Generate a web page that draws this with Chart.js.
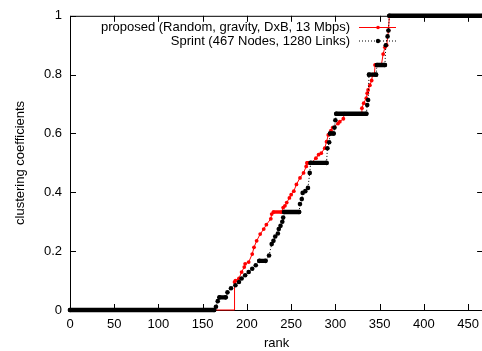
<!DOCTYPE html>
<html><head><meta charset="utf-8">
<script src="https://cdn.jsdelivr.net/npm/chart.js@4.4.1/dist/chart.umd.min.js"></script>
<style>
html,body{margin:0;padding:0;overflow:hidden;background:#fff;width:482px;height:351px}
#wrap{width:486px;height:351px}
</style></head>
<body><div id="wrap"><canvas id="c" width="486" height="351"></canvas></div>
<script>
// ---- data ----
const seriesNames = ['proposed (Random, gravity, DxB, 13 Mbps)', 'Sprint (467 Nodes, 1280 Links)'];
const xTicks = [0, 50, 100, 150, 200, 250, 300, 350, 400, 450];
const yTicks = [0, 0.2, 0.4, 0.6, 0.8, 1];
const xTickLabels = ['0', '50', '100', '150', '200', '250', '300', '350', '400', '450'];
const yTickLabels = ['0', '0.2', '0.4', '0.6', '0.8', '1'];
const xTitle = 'rank';
const yTitle = 'clustering coefficients';

const proposedRank = [0,186,186,187,191,194,197,198,202,206,208,211,215,219,222,227,228,230,239,241,243,245,248,250,253,256,260,264,267,268,273,278,281,284,288,290,292,295,297,303,305,309,310,329,330,332,335,336,337,339,341,342,344,345,352,354,356,358,360,361,467];
const proposedValue = [0,0,0.095,0.1,0.107,0.129,0.146,0.157,0.163,0.19,0.213,0.235,0.258,0.275,0.29,0.31,0.326,0.333,0.333,0.348,0.354,0.365,0.381,0.392,0.404,0.427,0.449,0.466,0.488,0.5,0.5,0.516,0.528,0.533,0.55,0.572,0.595,0.61,0.62,0.634,0.64,0.65,0.667,0.667,0.686,0.703,0.72,0.737,0.748,0.764,0.78,0.8,0.8,0.833,0.833,0.87,0.893,0.9,0.95,1,1];

const sprintRank = [0,163,165,167,169,176,178,182,187,191,194,198,202,206,210,214,221,225,228,230,232,235,236,238,240,241,242,259,260,262,263,266,269,271,272,290,291,293,294,298,299,300,301,335,336,337,338,346,347,356,357,359,360,361,467];
const sprintValue = [0,0,0.011,0.03,0.043,0.043,0.06,0.074,0.084,0.095,0.107,0.118,0.129,0.14,0.152,0.167,0.167,0.185,0.224,0.235,0.25,0.26,0.275,0.286,0.3,0.314,0.333,0.333,0.36,0.377,0.398,0.404,0.415,0.466,0.5,0.5,0.55,0.57,0.6,0.6,0.62,0.645,0.667,0.667,0.697,0.714,0.8,0.8,0.833,0.833,0.9,0.93,0.95,1,1];

// ---- chart ----
const FONT_FAMILY = "'Liberation Sans', Arial, Helvetica, sans-serif";
Chart.defaults.font.family = FONT_FAMILY;
Chart.defaults.font.size = 13;
Chart.defaults.color = '#000';

const toPts = (xs, ys) => xs.map((x, i) => ({x: x, y: ys[i]}));
const flat = c => c.p0.parsed.y === c.p1.parsed.y;

const framePlugin = {
  id: 'frame',
  beforeDatasetsDraw(chart) {
    const {ctx, chartArea: a, scales: {x, y}} = chart;
    ctx.save();
    ctx.strokeStyle = '#000';
    ctx.lineWidth = 1;
    ctx.beginPath();
    ctx.rect(a.left + 0.5, a.top + 0.5, a.right - a.left - 1, a.bottom - a.top);
    const tl = 6;
    xTicks.forEach(v => {
      const px = Math.round(x.getPixelForValue(v)) + 0.5;
      ctx.moveTo(px, a.bottom); ctx.lineTo(px, a.bottom - tl);
      ctx.moveTo(px, a.top); ctx.lineTo(px, a.top + tl);
    });
    yTicks.forEach(v => {
      const py = Math.round(y.getPixelForValue(v)) + 0.5;
      ctx.moveTo(a.left, py); ctx.lineTo(a.left + tl, py);
      ctx.moveTo(a.right, py); ctx.lineTo(a.right - tl, py);
    });
    ctx.stroke();
    ctx.restore();
  }
};

const keyPlugin = {
  id: 'key',
  afterDatasetsDraw(chart) {
    const {ctx} = chart;
    const ds = chart.data.datasets;
    const rows = [
      {d: ds[1], y: 27.5, dash: [], r: 1.8},
      {d: ds[0], y: 41, dash: [1, 2], r: 2.2}
    ];
    ctx.save();
    ctx.font = '13px ' + FONT_FAMILY;
    ctx.textAlign = 'right';
    ctx.textBaseline = 'middle';
    rows.forEach(row => {
      ctx.fillStyle = '#000';
      ctx.fillText(row.d.label, 350, row.y);
      ctx.strokeStyle = row.d.borderColor;
      ctx.lineWidth = 1;
      ctx.setLineDash(row.dash);
      ctx.beginPath();
      ctx.moveTo(359, row.y); ctx.lineTo(396, row.y);
      ctx.stroke();
      ctx.setLineDash([]);
      ctx.fillStyle = row.d.borderColor;
      ctx.beginPath();
      ctx.arc(378, row.y, row.r, 0, Math.PI * 2);
      ctx.fill();
    });
    ctx.restore();
  }
};

new Chart(document.getElementById('c'), {
  type: 'line',
  data: {
    datasets: [
      {
        label: seriesNames[1],
        data: toPts(sprintRank, sprintValue),
        order: 0,
        borderColor: '#000',
        backgroundColor: '#000',
        borderWidth: 1,
        borderDash: [1, 2],
        pointRadius: 2.3,
        pointHoverRadius: 2.3,
        pointBorderWidth: 0,
        pointBackgroundColor: '#000',
        clip: 6,
        segment: {
          borderWidth: c => flat(c) ? 4.4 : 1,
          borderDash: c => flat(c) ? [] : [1, 2],
          borderCapStyle: c => flat(c) ? 'round' : 'butt'
        }
      },
      {
        label: seriesNames[0],
        data: toPts(proposedRank, proposedValue),
        order: 1,
        borderColor: '#ff0000',
        backgroundColor: '#ff0000',
        borderWidth: 1,
        pointRadius: c => (c.raw && c.raw.y === 0) ? 0 : 1.9,
        pointHoverRadius: 1.9,
        pointBorderWidth: 0,
        pointBackgroundColor: '#ff0000',
        clip: 6,
        segment: {
          borderWidth: c => (flat(c) && c.p0.parsed.y > 0) ? 3.6 : 1,
          borderCapStyle: c => (flat(c) && c.p0.parsed.y > 0) ? 'round' : 'butt'
        }
      }
    ]
  },
  options: {
    responsive: false,
    animation: false,
    events: [],
    layout: {padding: {top: 13, right: 0, bottom: 0, left: 0}},
    plugins: {legend: {display: false}, tooltip: {enabled: false}},
    scales: {
      x: {
        type: 'linear', min: 0, max: 467,
        afterFit: s => { s.height = 41; },
        grid: {display: false, drawTicks: false},
        border: {display: false},
        afterBuildTicks: s => { s.ticks = xTicks.map(v => ({value: v})); },
        ticks: {padding: 7, maxRotation: 0, autoSkip: false,
          callback: (v, i) => xTickLabels[i]},
        title: {display: true, text: xTitle, padding: {top: 0, bottom: 0}}
      },
      y: {
        type: 'linear', min: 0, max: 1,
        afterFit: s => { s.width = 70; },
        grid: {display: false, drawTicks: false},
        border: {display: false},
        afterBuildTicks: s => { s.ticks = yTicks.map(v => ({value: v})); },
        ticks: {padding: 8, callback: (v, i) => yTickLabels[i]},
        title: {display: true, text: yTitle, padding: {top: 13, bottom: 0}}
      }
    }
  },
  plugins: [framePlugin, keyPlugin]
});
</script>
</body></html>
